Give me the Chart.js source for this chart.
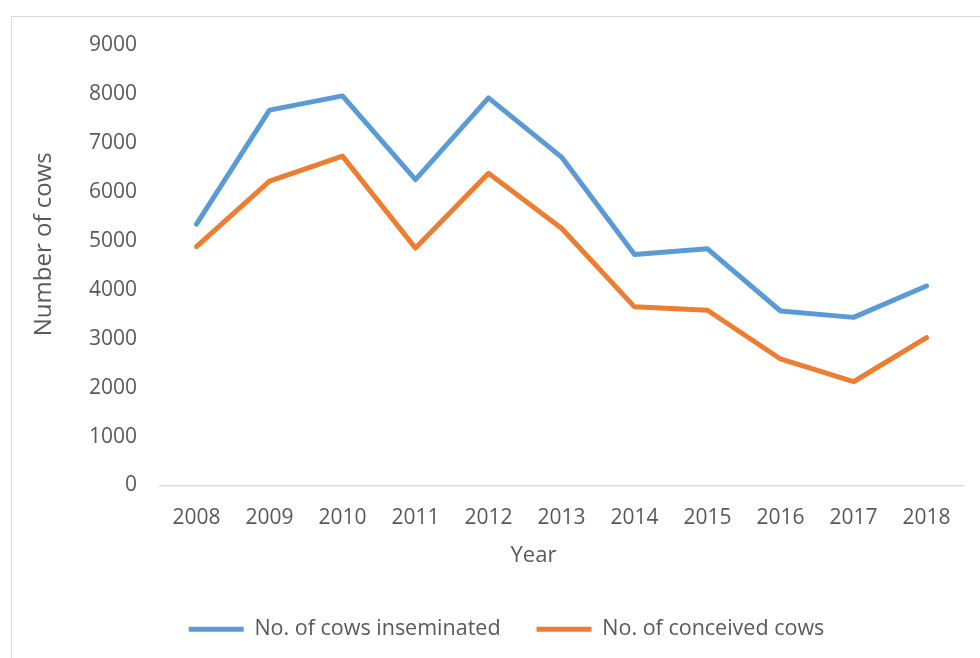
<!DOCTYPE html>
<html>
<head>
<meta charset="utf-8">
<script src="https://cdn.jsdelivr.net/npm/chart.js@4"></script>
<style>
  html, body { margin: 0; padding: 0; background: #fff; overflow: hidden; }
  #wrap { position: relative; width: 980px; height: 658px; }
  #frame { position: absolute; left: 11px; top: 16px; width: 1000px; height: 700px; border: 1px solid #d9d9d9; box-sizing: border-box; }
  #chart { position: absolute; left: 0; top: 0; }
</style>
</head>
<body>
<div id="wrap">
  <div id="frame"></div>
  <canvas id="chart" width="980" height="658"></canvas>
</div>
<script>
const years = ['2008', '2009', '2010', '2011', '2012', '2013', '2014', '2015', '2016', '2017', '2018'];
const inseminated = [5340, 7670, 7960, 6250, 7920, 6710, 4720, 4835, 3565, 3435, 4075];
const conceived = [4880, 6220, 6730, 4850, 6380, 5255, 3650, 3580, 2585, 2120, 3020];
const yTicks = [0, 1000, 2000, 3000, 4000, 5000, 6000, 7000, 8000, 9000];

const textColor = '#595959';
const fontFamily = '"Open Sans", sans-serif';

// axis titles sit a bit off-centre in the original, so draw them by hand
const axisTitles = {
  id: 'axisTitles',
  afterDraw(chart) {
    const { ctx, chartArea } = chart;
    ctx.save();
    ctx.fillStyle = textColor;
    ctx.textAlign = 'center';
    ctx.textBaseline = 'middle';
    ctx.font = '22px ' + fontFamily;
    ctx.fillText('Year', (chartArea.left + chartArea.right) / 2 - 28, 556);
    ctx.font = '24px ' + fontFamily;
    ctx.translate(44, (chartArea.top + chartArea.bottom) / 2 - 21);
    ctx.rotate(-Math.PI / 2);
    ctx.fillText('Number of cows', 0, 0);
    ctx.restore();
  }
};

new Chart(document.getElementById('chart'), {
  type: 'line',
  data: {
    labels: years,
    datasets: [
      {
        label: 'No. of cows inseminated',
        data: inseminated,
        borderColor: '#5B9BD5',
        backgroundColor: '#5B9BD5',
        borderWidth: 5,
        borderCapStyle: 'round',
        borderJoinStyle: 'round',
        pointRadius: 0,
        tension: 0
      },
      {
        label: 'No. of conceived cows',
        data: conceived,
        borderColor: '#ED7D31',
        backgroundColor: '#ED7D31',
        borderWidth: 5,
        borderCapStyle: 'round',
        borderJoinStyle: 'round',
        pointRadius: 0,
        tension: 0
      }
    ]
  },
  options: {
    responsive: false,
    animation: false,
    layout: { padding: { left: 50, right: 17, top: 45, bottom: 8 } },
    plugins: {
      legend: {
        position: 'bottom',
        labels: {
          usePointStyle: true,
          pointStyle: 'line',
          pointStyleWidth: 55,
          padding: 36,
          color: textColor,
          font: { family: fontFamily, size: 21.5 }
        }
      },
      tooltip: { enabled: false }
    },
    scales: {
      x: {
        offset: true,
        grid: { display: false, drawTicks: false },
        border: { display: true, color: '#d9d9d9', width: 1.5 },
        ticks: { color: textColor, font: { family: fontFamily, size: 21 }, padding: 20, maxRotation: 0 },
        afterFit(scale) { scale.height = 97; }
      },
      y: {
        min: 0,
        max: 9000,
        afterBuildTicks(scale) { scale.ticks = yTicks.map(v => ({ value: v })); },
        grid: { display: false, drawTicks: false },
        border: { display: false },
        ticks: {
          color: textColor,
          font: { family: fontFamily, size: 21 },
          padding: 23,
          callback: (v) => String(v)
        },
        afterFit(scale) { scale.width = 110; }
      }
    }
  },
  plugins: [axisTitles]
});
</script>
</body>
</html>
